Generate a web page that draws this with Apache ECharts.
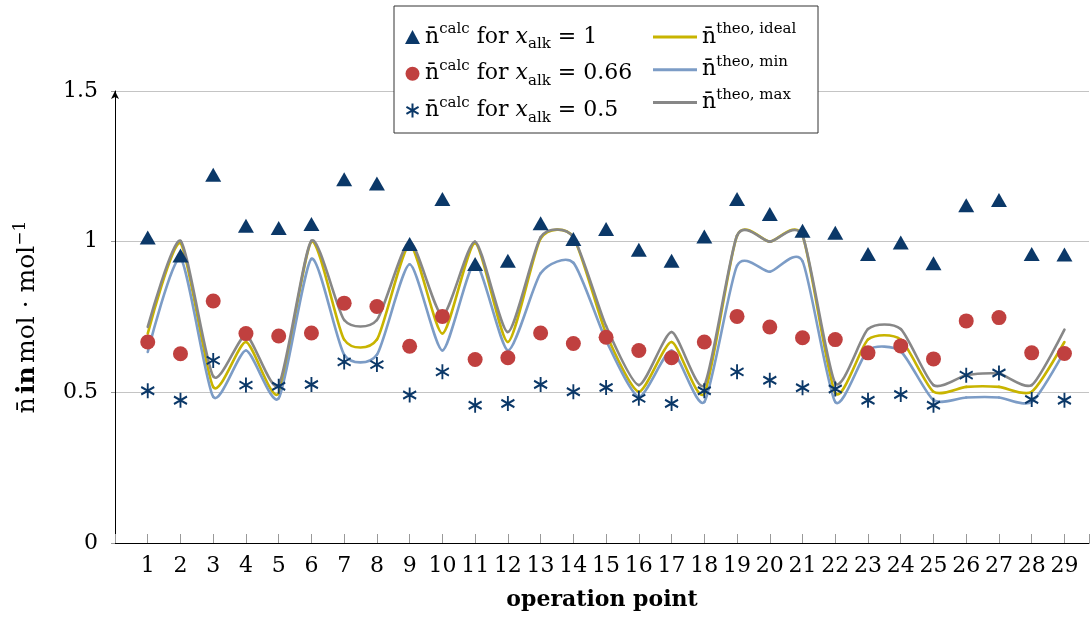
<!DOCTYPE html>
<html>
<head>
<meta charset="utf-8">
<script src="https://cdn.jsdelivr.net/npm/echarts@6/dist/echarts.min.js"></script>
<style>html,body{margin:0;padding:0;background:#fff}#c{width:1092px;height:623px}</style>
</head>
<body>
<div id="c"></div>
<script>
// operation points (x categories)
const ops = [1,2,3,4,5,6,7,8,9,10,11,12,13,14,15,16,17,18,19,20,21,22,23,24,25,26,27,28,29];
// n calc for x_alk = 1
const nCalc1 = [1.014,0.954,1.222,1.053,1.045,1.059,1.207,1.193,0.992,1.142,0.926,0.937,1.061,1.009,1.042,0.973,0.937,1.017,1.142,1.092,1.036,1.030,0.959,0.997,0.928,1.121,1.138,0.959,0.957];
// n calc for x_alk = 0.66
const nCalc066 = [0.667,0.628,0.803,0.695,0.687,0.697,0.796,0.785,0.653,0.752,0.609,0.615,0.697,0.662,0.683,0.639,0.615,0.667,0.752,0.717,0.681,0.675,0.631,0.654,0.611,0.737,0.748,0.631,0.629];
// n calc for x_alk = 0.5
const nCalc05 = [0.505,0.474,0.606,0.524,0.520,0.526,0.601,0.592,0.491,0.568,0.457,0.463,0.526,0.502,0.516,0.480,0.463,0.505,0.568,0.540,0.515,0.511,0.474,0.493,0.457,0.557,0.564,0.476,0.474];
// n theo ideal / min / max
const nTheoIdeal = [0.695,0.995,0.518,0.667,0.496,1.0,0.675,0.675,0.99,0.695,0.995,0.667,1.01,1.015,0.695,0.502,0.667,0.496,1.02,1.0,1.02,0.498,0.675,0.675,0.502,0.518,0.518,0.502,0.667];
const nTheoMin = [0.634,0.945,0.485,0.639,0.48,0.943,0.625,0.625,0.925,0.639,0.93,0.639,0.895,0.93,0.672,0.485,0.639,0.468,0.92,0.90,0.935,0.468,0.64,0.636,0.474,0.483,0.483,0.468,0.636];
const nTheoMax = [0.717,1.003,0.553,0.689,0.524,1.003,0.74,0.74,1.0,0.755,1.0,0.70,1.015,1.015,0.72,0.524,0.70,0.524,1.02,1.0,1.02,0.53,0.71,0.71,0.524,0.557,0.562,0.524,0.708];
// y tick labels
const yTicks = [0, 0.5, 1, 1.5];

const pairs = arr => ops.map((x, i) => [x, arr[i]]);
const FONT = 'DejaVu Serif';
const NAVY = '#0b3868';
const RED = '#c0403f';
const YEL = '#c8b400';
const BLU = '#7c9cc6';
const GRY = '#878787';
const TENSION = 0.11;

const starPath = 'path://M0,-10L0,10M-8.66,-5L8.66,5M-8.66,5L8.66,-5';

const richStyles = {
  m: {fontFamily: FONT, fontSize: 22, lineHeight: 30, color: '#000'},
  i: {fontFamily: FONT, fontSize: 22, lineHeight: 30, color: '#000', fontStyle: 'italic'},
  sup: {fontFamily: FONT, fontSize: 15, lineHeight: 17, color: '#000', verticalAlign: 'top'},
  sub: {fontFamily: FONT, fontSize: 15, lineHeight: 14, color: '#000', verticalAlign: 'bottom'}
};
const legendText = {
  'c1': '{m|n\u0304}{sup|calc}{m| for }{i|x}{sub|alk}{m| = 1}',
  'c066': '{m|n\u0304}{sup|calc}{m| for }{i|x}{sub|alk}{m| = 0.66}',
  'c05': '{m|n\u0304}{sup|calc}{m| for }{i|x}{sub|alk}{m| = 0.5}',
  'ideal': '{m|n\u0304}{sup|theo, ideal}',
  'min': '{m|n\u0304}{sup|theo, min}',
  'max': '{m|n\u0304}{sup|theo, max}'
};

// smooth curve (cardinal spline, like pgfplots "smooth") drawn segment by segment through the axis scales
function splineSeries(name, arr, color) {
  return {
    name, type: 'custom', data: pairs(arr), itemStyle: {color},
    renderItem: (params, api) => {
      const i = params.dataIndexInside;
      const n = params.dataInsideLength;
      if (i >= n - 1) return {type: 'group', children: []};
      const P = j => api.coord([api.value(0, j), api.value(1, j)]);
      const p0 = P(i), p1 = P(i + 1);
      const c1 = i > 0 ? (() => { const pm = P(i - 1); return [p0[0] + TENSION * (p1[0] - pm[0]), p0[1] + TENSION * (p1[1] - pm[1])]; })() : p0;
      const c2 = i + 2 < n ? (() => { const p2 = P(i + 2); return [p1[0] - TENSION * (p2[0] - p0[0]), p1[1] - TENSION * (p2[1] - p0[1])]; })() : p1;
      return {
        type: 'bezierCurve',
        shape: {x1: p0[0], y1: p0[1], x2: p1[0], y2: p1[1], cpx1: c1[0], cpy1: c1[1], cpx2: c2[0], cpy2: c2[1]},
        style: {stroke: color, fill: null, lineWidth: 2.6, lineCap: 'round'}
      };
    }
  };
}

const chart = echarts.init(document.getElementById('c'), null, {renderer: 'canvas'});
chart.setOption({
  animation: false,
  backgroundColor: '#fff',
  grid: {left: 115, right: 2, top: 91, bottom: 80},
  graphic: [{
    type: 'rect', z: 100,
    shape: {x: 394, y: 6, width: 424, height: 127},
    style: {fill: '#fff', stroke: '#333', lineWidth: 1}
  }],
  legend: [{
    z: 101,
    orient: 'vertical', left: 400, top: 17, itemGap: 6.7,
    itemWidth: 15, itemHeight: 14,
    data: [{name: 'c1', icon: 'triangle'}, {name: 'c066', icon: 'circle'}, {name: 'c05', icon: starPath}],
    formatter: n => legendText[n],
    textStyle: {rich: richStyles}
  }, {
    z: 101,
    orient: 'vertical', left: 648, top: 17, itemGap: 6.7,
    itemWidth: 44, itemHeight: 3,
    data: [{name: 'ideal', icon: 'rect'}, {name: 'min', icon: 'rect'}, {name: 'max', icon: 'rect'}],
    formatter: n => legendText[n],
    textStyle: {rich: richStyles}
  }],
  xAxis: {
    type: 'value', min: 0, max: 29.75, interval: 1,
    name: 'operation point', nameLocation: 'middle', nameGap: 46,
    nameTextStyle: {fontFamily: FONT, fontSize: 22, fontWeight: 'bold', color: '#000'},
    axisLine: {lineStyle: {color: '#000', width: 1}},
    axisTick: {inside: true, length: 9, lineStyle: {color: '#999'}},
    axisLabel: {
      margin: 12, fontFamily: FONT, fontSize: 22, color: '#000',
      formatter: v => (v >= 1 && v <= 29 && Math.abs(v - Math.round(v)) < 1e-6) ? String(Math.round(v)) : ''
    },
    splitLine: {show: false}
  },
  yAxis: {
    type: 'value', min: 0, max: 1.5, interval: 0.5,
    name: '{i|n\u0304} {b|in} {m|mol \u00b7 mol}{sup|\u22121}',
    nameLocation: 'middle', nameGap: 73,
    nameTextStyle: {rich: {
      m: {fontFamily: FONT, fontSize: 25, lineHeight: 30, color: '#000'},
      i: {fontFamily: FONT, fontSize: 25, lineHeight: 30, color: '#000'},
      b: {fontFamily: FONT, fontSize: 25, lineHeight: 30, color: '#000', fontWeight: 'bold'},
      sup: {fontFamily: FONT, fontSize: 17, lineHeight: 18, color: '#000', verticalAlign: 'top'}
    }},
    axisLine: {show: true, lineStyle: {color: '#000', width: 1}, symbol: ['none', 'arrow'], symbolSize: [6, 8]},
    axisTick: {show: true, length: 4, lineStyle: {color: '#999'}},
    axisLabel: {
      margin: 17, fontFamily: FONT, fontSize: 22, color: '#000',
      formatter: v => { const t = yTicks.find(k => Math.abs(k - v) < 1e-6); return t === undefined ? '' : String(t); }
    },
    splitLine: {show: true, lineStyle: {color: '#c4c4c4', width: 1}}
  },
  series: [
    splineSeries('ideal', nTheoIdeal, YEL),
    splineSeries('min', nTheoMin, BLU),
    splineSeries('max', nTheoMax, GRY),
    {name: 'c1', type: 'scatter', data: pairs(nCalc1), symbol: 'triangle', symbolSize: [16, 14], z: 3,
     itemStyle: {color: NAVY, opacity: 1}},
    {name: 'c066', type: 'scatter', data: pairs(nCalc066), symbol: 'circle', symbolSize: 15, z: 3,
     itemStyle: {color: RED, opacity: 1}},
    {name: 'c05', type: 'scatter', data: pairs(nCalc05), symbol: starPath, symbolSize: [13, 15], z: 3,
     itemStyle: {color: NAVY, borderColor: NAVY, borderWidth: 2, opacity: 1}}
  ]
});
</script>
</body>
</html>
